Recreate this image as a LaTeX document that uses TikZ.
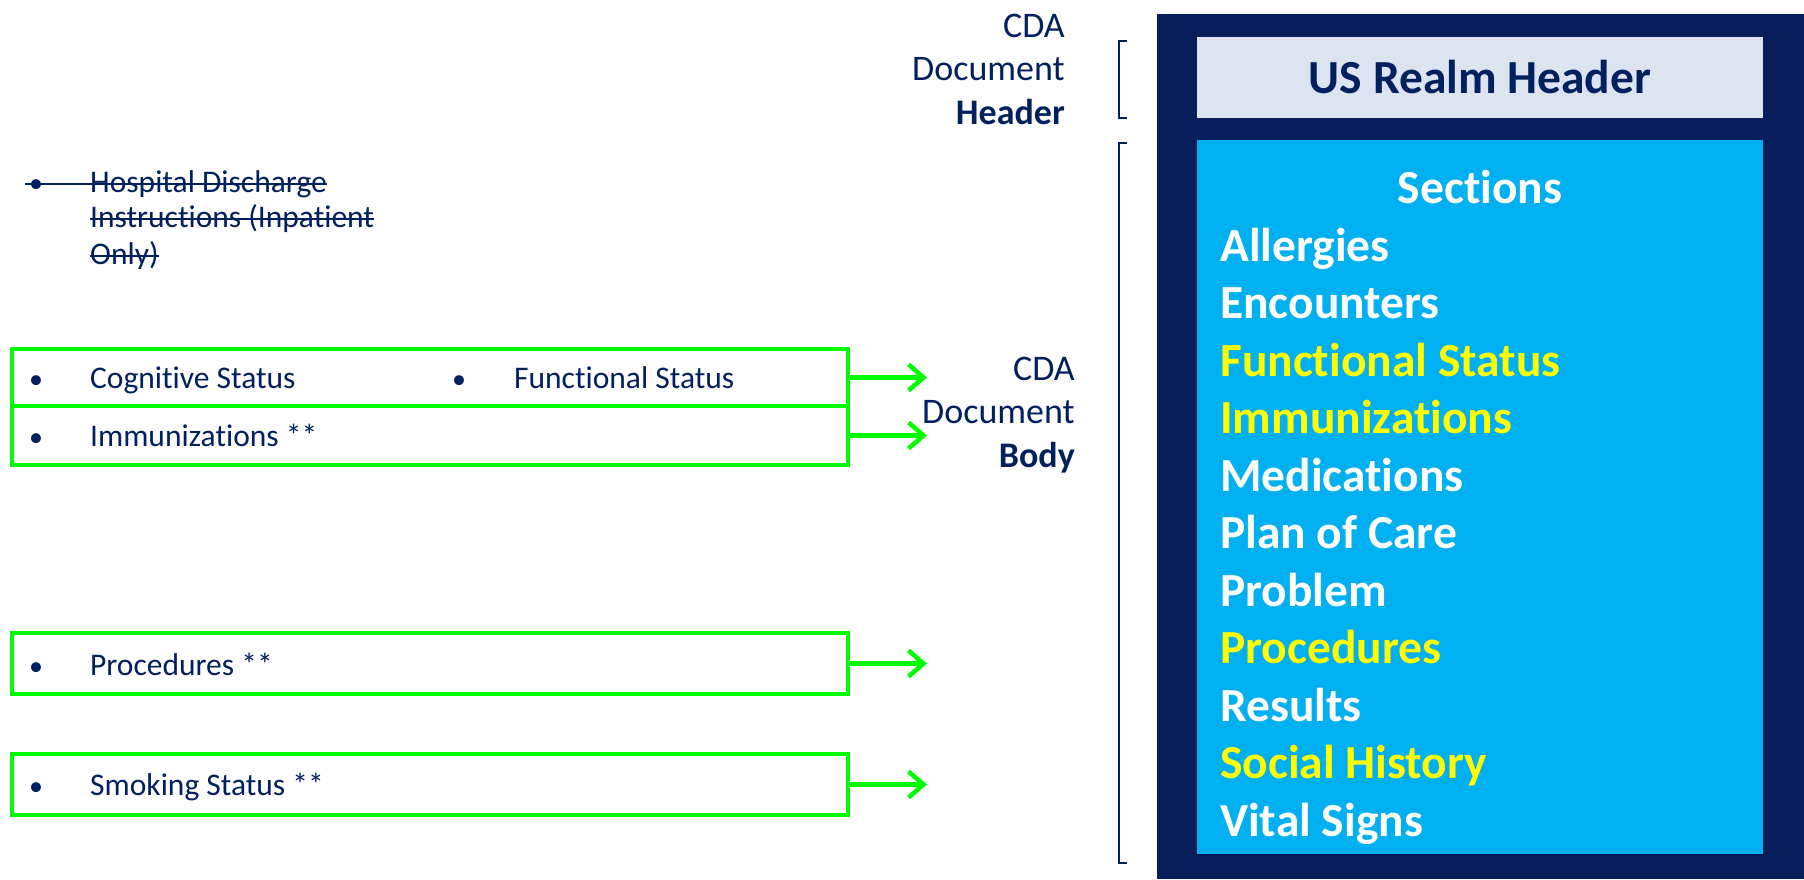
\documentclass[tikz,border=0pt]{standalone}
\usepackage{fontspec}
\setmainfont{Carlito}[RawFeature={-liga;-clig;-calt}]
\usetikzlibrary{arrows.meta}
\definecolor{navy}{RGB}{0,32,96}
\definecolor{panel}{RGB}{8,30,90}
\definecolor{skyblue}{RGB}{0,176,240}
\definecolor{headfill}{RGB}{221,228,240}
\definecolor{lime}{RGB}{0,255,0}
\definecolor{hilite}{RGB}{255,255,0}
\begin{document}
\begin{tikzpicture}[x=1pt,y=-1pt,
  gbox/.style={draw=lime, line width=3.5pt, minimum width=836pt, inner sep=0pt, outer sep=0pt},
  garrow/.style={draw=lime, line width=4.5pt, -{Straight Barb[length=15pt,width=26pt]}},
  item/.style={anchor=mid west, yshift=-9pt, inner sep=0pt, text=navy, font=\fontsize{31.5}{36}\selectfont},
  bul/.style={item, font=\fontsize{28}{36}\selectfont},
  strike/.style={draw=navy, line width=2pt},
  lab/.style={anchor=east, align=right, inner sep=0pt, text=navy, font=\fontsize{36}{43.5}\selectfont},
  brace/.style={draw=navy, line width=2pt},
  sec/.style={anchor=mid west, yshift=-14pt, inner sep=0pt, text=white, font=\fontsize{47.5}{57}\selectfont\bfseries},
  secy/.style={sec, text=hilite}
]
\useasboundingbox (0,0) rectangle (1804,879);
\fill[white] (0,0) rectangle (1804,879);

% ---- right panel: document structure ----
\node[fill=panel, inner sep=0pt, minimum width=647pt, minimum height=865pt] (panel) at (1480.5,446.5) {};
\node[fill=headfill, inner sep=0pt, minimum width=566pt, minimum height=81pt,
      text=navy, font=\fontsize{47.5}{57}\selectfont\bfseries] (hdr) at (1480,77.5) {US Realm Header};
\node[fill=skyblue, inner sep=0pt, minimum width=566pt, minimum height=714pt] (body) at (1480,497) {};

\node[sec, anchor=mid] (sections) at (1480,187.5) {Sections};
\node[sec]  (s1)  at (1220,245)   {Allergies};
\node[sec]  (s2)  at (1220,302.5) {Encounters};
\node[secy] (s3)  at (1220,360)   {Functional Status};
\node[secy] (s4)  at (1220,417.5) {Immunizations};
\node[sec]  (s5)  at (1220,475)   {Medications};
\node[sec]  (s6)  at (1220,532.5) {Plan of Care};
\node[sec]  (s7)  at (1220,590)   {Problem};
\node[secy] (s8)  at (1220,647.5) {Procedures};
\node[sec]  (s9)  at (1220,705)   {Results};
\node[secy] (s10) at (1220,762.5) {Social History};
\node[sec]  (s11) at (1220,820)   {Vital Signs};

% ---- brackets and their labels ----
\draw[brace] (1127,41) -- (1119,41) -- (1119,118) -- (1127,118);
\draw[brace] (1127,143) -- (1119,143) -- (1119,863) -- (1127,863);
\node[lab] (hdrlab) at (1065,69) {CDA\\Document\\\textbf{Header}};
\node[lab] (bodylab) at (1075,415) {CDA\\Document\\\textbf{Body}};

% ---- withdrawn item ----
\node[bul] (hb) at (29,181) {•};
\node[item] (hd1) at (90,181) {Hospital Discharge};
\node[item] (hd2) at (90,216) {Instructions (Inpatient};
\node[item] (hd3) at (90,253) {Only)};
\draw[strike] ([xshift=-4pt,yshift=8pt]hb.base west) -- ([yshift=8pt]hd1.base east);
\draw[strike] ([yshift=8pt]hd2.base west) -- ([yshift=8pt]hd2.base east);
\draw[strike] ([yshift=8pt]hd3.base west) -- ([yshift=8pt]hd3.base east);

% ---- new body sections ----
\node[gbox, minimum height=57pt] (g1) at (430,377.5) {};
\node[gbox, minimum height=59pt] (g2) at (430,435.5) {};
\node[gbox, minimum height=61pt] (g3) at (430,663.5) {};
\node[gbox, minimum height=61pt] (g4) at (430,784.5) {};

\node[bul]  (b1a) at (29,377)  {•};
\node[item] (t1a) at (90,377)  {Cognitive Status};
\node[bul]  (b1b) at (452,377) {•};
\node[item] (t1b) at (514,377) {Functional Status};
\node[bul]  (b2)  at (29,435)  {•};
\node[item] (t2)  at (90,435)  {Immunizations **};
\node[bul]  (b3)  at (29,664)  {•};
\node[item] (t3)  at (90,664)  {Procedures **};
\node[bul]  (b4)  at (29,784)  {•};
\node[item] (t4)  at (90,784)  {Smoking Status **};

\coordinate (e1) at (927,377.5);
\coordinate (e2) at (927,435.5);
\coordinate (e3) at (927,663.5);
\coordinate (e4) at (927,784.5);
\draw[garrow] (g1.east) -- (e1);
\draw[garrow] (g2.east) -- (e2);
\draw[garrow] (g3.east) -- (e3);
\draw[garrow] (g4.east) -- (e4);
\end{tikzpicture}
\end{document}
